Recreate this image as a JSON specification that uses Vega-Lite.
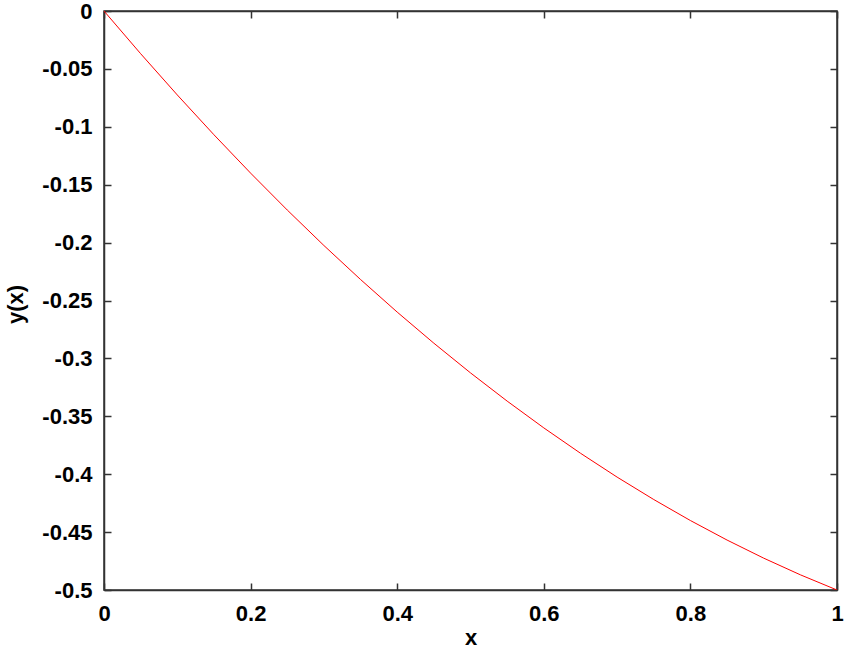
{
  "$schema": "https://vega.github.io/schema/vega-lite/v6.json",
  "width": 733,
  "height": 579,
  "autosize": {"type": "none"},
  "padding": {"left": 104, "top": 11, "right": 14, "bottom": 63},
  "background": "white",
  "config": {
    "view": {"stroke": "#333333", "strokeWidth": 1.5},
    "axis": {
      "labelFont": "Liberation Sans",
      "labelFontWeight": "bold",
      "labelFontSize": 22,
      "labelColor": "black",
      "titleFont": "Liberation Sans",
      "titleFontWeight": "bold",
      "titleFontSize": 22,
      "titleColor": "black",
      "grid": false,
      "domainColor": "#333333",
      "domainWidth": 1.5,
      "tickColor": "#333333",
      "tickWidth": 1.5,
      "tickSize": -7,
      "labelFlush": false,
      "labelOverlap": false
    }
  },
  "data": {
    "values": [
      {"x": 0, "y": 0},
      {"x": 0.05, "y": -0.036875},
      {"x": 0.1, "y": -0.0725},
      {"x": 0.15, "y": -0.106875},
      {"x": 0.2, "y": -0.14},
      {"x": 0.25, "y": -0.171875},
      {"x": 0.3, "y": -0.2025},
      {"x": 0.35, "y": -0.231875},
      {"x": 0.4, "y": -0.26},
      {"x": 0.45, "y": -0.286875},
      {"x": 0.5, "y": -0.3125},
      {"x": 0.55, "y": -0.336875},
      {"x": 0.6, "y": -0.36},
      {"x": 0.65, "y": -0.381875},
      {"x": 0.7, "y": -0.4025},
      {"x": 0.75, "y": -0.421875},
      {"x": 0.8, "y": -0.44},
      {"x": 0.85, "y": -0.456875},
      {"x": 0.9, "y": -0.4725},
      {"x": 0.95, "y": -0.486875},
      {"x": 1, "y": -0.5}
    ]
  },
  "layer": [
    {
      "mark": {"type": "line", "color": "#ff0000", "strokeWidth": 1, "clip": true},
      "encoding": {
        "x": {
          "field": "x", "type": "quantitative",
          "scale": {"domain": [0, 1], "nice": false, "zero": false},
          "axis": {"orient": "bottom", "title": "x", "values": [0, 0.2, 0.4, 0.6, 0.8, 1], "labelPadding": 20, "labelExpr": "'' + datum.value", "titleX": 366.5, "titleY": 54, "titleBaseline": "alphabetic", "titleAlign": "center"}
        },
        "y": {
          "field": "y", "type": "quantitative",
          "scale": {"domain": [-0.5, 0], "nice": false, "zero": false},
          "axis": {"orient": "left", "title": "y(x)", "values": [-0.5, -0.45, -0.4, -0.35, -0.3, -0.25, -0.2, -0.15, -0.1, -0.05, 0], "labelPadding": 19, "labelExpr": "'' + datum.value", "titleX": -89, "titleY": 293, "titleBaseline": "middle", "titleAlign": "center", "titleAngle": -90}
        }
      }
    },
    {
      "mark": {"type": "line", "opacity": 0},
      "encoding": {
        "x": {
          "field": "x", "type": "quantitative",
          "axis": {"orient": "top", "title": null, "labels": false, "values": [0, 0.2, 0.4, 0.6, 0.8, 1]}
        },
        "y": {
          "field": "y", "type": "quantitative",
          "axis": {"orient": "right", "title": null, "labels": false, "values": [-0.5, -0.45, -0.4, -0.35, -0.3, -0.25, -0.2, -0.15, -0.1, -0.05, 0]}
        }
      }
    }
  ],
  "resolve": {"axis": {"x": "independent", "y": "independent"}}
}
